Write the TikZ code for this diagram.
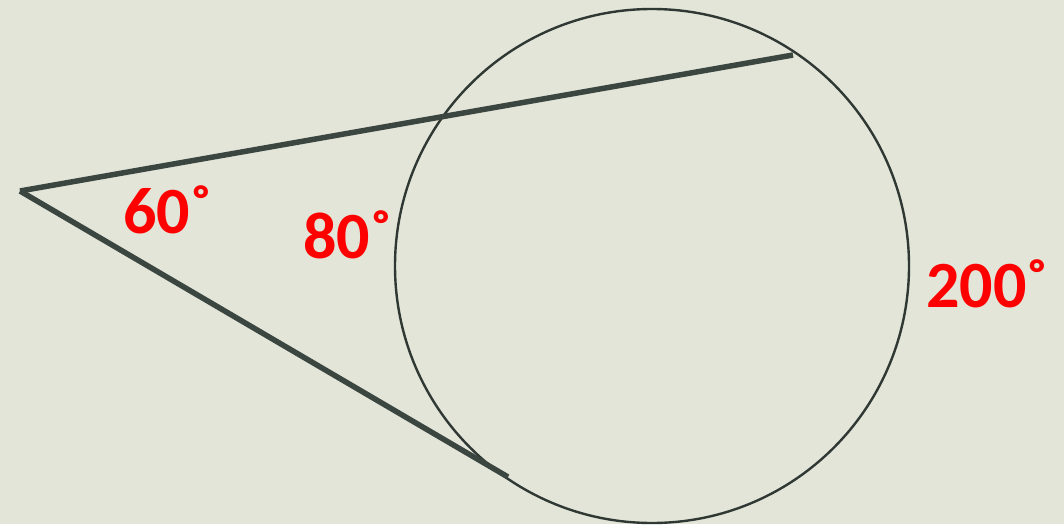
\documentclass[tikz,border=0pt]{standalone}
\usepackage{fontspec}
\setmainfont{Carlito}
\definecolor{bg}{HTML}{E3E5D9}
\definecolor{ln}{HTML}{3C4641}
\definecolor{lab}{HTML}{FF0000}
\begin{document}
\begin{tikzpicture}[x=1pt,y=-1pt,
  secline/.style={draw=ln,line width=5.5pt},
  circ/.style={draw=ln!80!black,line width=2.4pt},
  deg/.style={text=lab,font=\fontsize{66}{66}\selectfont\bfseries,inner sep=0pt,anchor=base west}]
\fill[bg] (0,0) rectangle (1064,524);
\useasboundingbox (0,0) rectangle (1064,524);
\coordinate (P) at (20,191);
\coordinate (A) at (793,55);
\coordinate (B) at (508,477);
\coordinate (O) at (652,266);
\draw[circ] (O) circle (257);
\draw[secline] (P) -- (A);
\draw[secline] (P) -- (B);
\node[deg] (l60) at (123,233) {60˚};
\node[deg] (l80) at (303,258) {80˚};
\node[deg] (l200) at (926,307) {200˚};
\end{tikzpicture}
\end{document}
